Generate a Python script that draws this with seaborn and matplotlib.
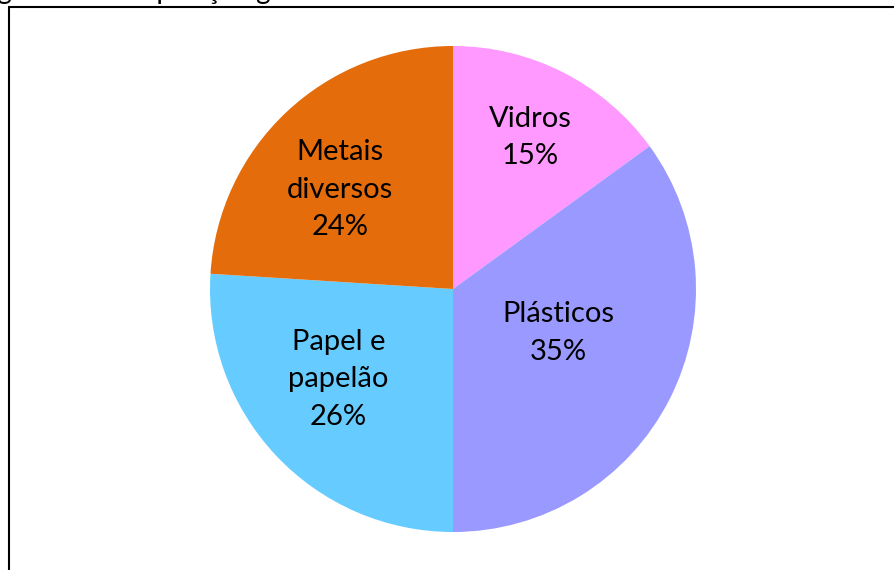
import numpy as np
import matplotlib
matplotlib.use("Agg")
import matplotlib.pyplot as plt
import seaborn as sns

# Composição dos resíduos
categorias = ["Vidros", "Plásticos", "Papel e\npapelão", "Metais\ndiversos"]
percentuais = [15, 35, 26, 24]
cores = ["#FF99FF", "#9999FF", "#66CCFF", "#E46C0A"]
# posição de cada rótulo: fração do raio e desvio angular (graus, sentido horário)
dist_rotulo = [0.70, 0.47, 0.60, 0.62]
desvio_rotulo = [0.0, -4.3, 5.0, -5.6]

sns.set_theme(style="white")
plt.rcParams["font.family"] = ["Lato", "DejaVu Sans"]

W, H = 895, 570
fig = plt.figure(figsize=(W / 100, H / 100), dpi=100)
ax = fig.add_axes([0, 0, 1, 1])

centro = (453, H - 289)
raio = 243
paleta = sns.color_palette(cores)

wedges, _ = ax.pie(percentuais, colors=paleta, startangle=90, counterclock=False,
                   center=centro, radius=raio, frame=True,
                   wedgeprops=dict(linewidth=0))
ax.set_xlim(0, W)
ax.set_ylim(0, H)
ax.set_axis_off()

for w, cat, p, d, dv in zip(wedges, categorias, percentuais, dist_rotulo, desvio_rotulo):
    ang = np.deg2rad((w.theta1 + w.theta2) / 2 - dv)
    x = centro[0] + d * raio * np.cos(ang)
    y = centro[1] + d * raio * np.sin(ang)
    ax.text(x, y, f"{cat}\n{p}%", ha="center", va="center", fontsize=21,
            color="black", linespacing=1.55)

# moldura
ax.plot([9, 9], [-5, H - 7], color="black", lw=1.5, solid_capstyle="butt")
ax.plot([8.5, W + 5], [H - 7, H - 7], color="black", lw=1.5, solid_capstyle="butt")

# título (parcialmente fora da área visível)
ax.text(-25, H + 1, "Figura 1 - Composição gravimétrica dos resíduos", ha="left",
        va="baseline", fontsize=20, color="black", clip_on=False)

fig.savefig("out.png", dpi=100)
